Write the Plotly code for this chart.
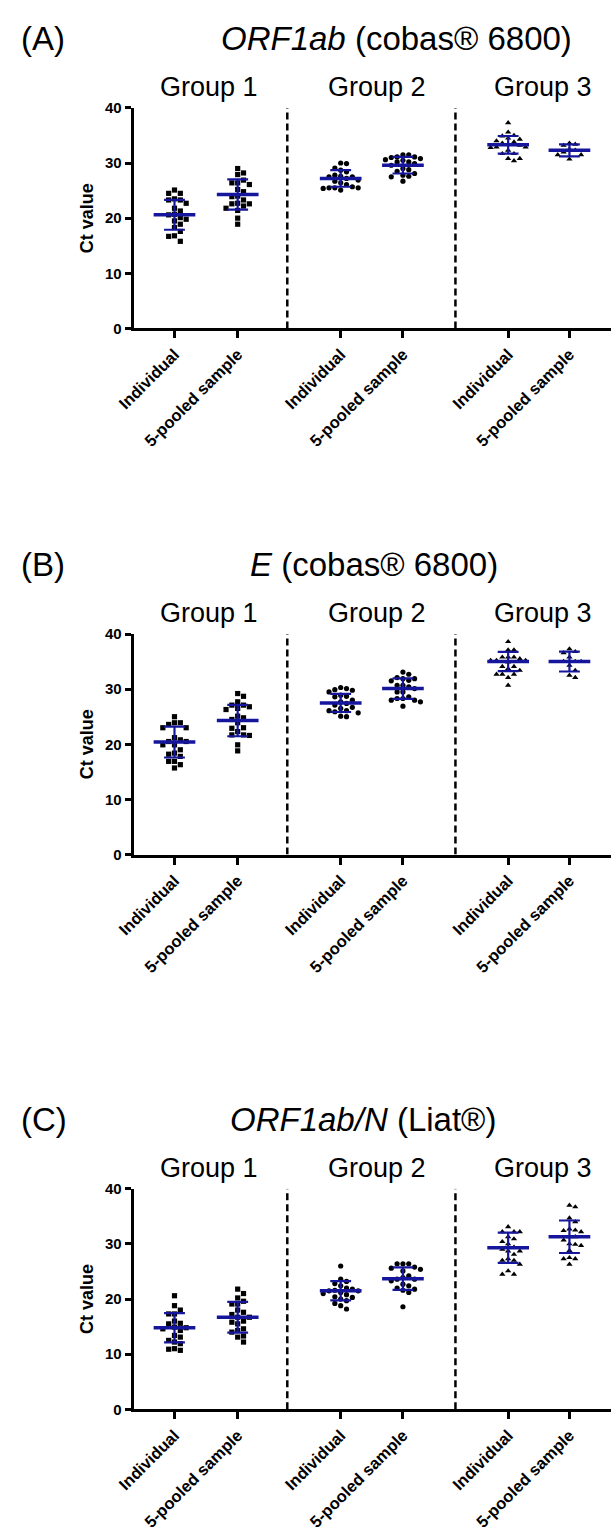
import plotly.graph_objects as go
import numpy as np

W, H = 611, 1535

# ---------------- text ----------------
panel_letters = ["(A)", "(B)", "(C)"]
panel_titles = ["<i>ORF1ab</i> (cobas® 6800)", "<i>E</i> (cobas® 6800)", "<i>ORF1ab/N</i> (Liat®)"]
group_names = ["Group 1", "Group 2", "Group 3"]
sample_types = ["Individual", "5-pooled sample"]
y_ticks = [0, 10, 20, 30, 40]
y_title = "Ct value"

# ---------------- data (Ct values) ----------------
# Panel A: ORF1ab (cobas 6800)
a_g1_ind = [25.1, 24.5, 24.5, 23.5, 23.3, 23.3, 22.7, 21.8, 21.3, 20.7, 20.6, 20.1, 19.8, 19.5, 18.9, 18.3, 17.6, 16.8, 16.7, 15.8]
a_g1_pool = [29.0, 28.2, 27.9, 26.9, 26.4, 26.4, 26.1, 25.2, 24.8, 24.0, 23.9, 23.3, 22.7, 22.6, 22.6, 22.2, 21.8, 21.4, 20.0, 18.9]
a_g2_ind = [30.0, 29.9, 29.1, 28.7, 28.4, 27.8, 27.6, 27.5, 27.5, 27.2, 26.9, 26.7, 26.4, 26.1, 25.7, 25.5, 25.5, 25.5, 25.4, 25.1]
a_g2_pool = [31.5, 31.5, 31.1, 31.1, 31.0, 30.8, 30.6, 30.5, 30.2, 30.2, 29.9, 29.6, 29.0, 28.8, 28.5, 28.1, 27.8, 27.6, 27.5, 26.7]
a_g3_ind = [37.3, 35.6, 35.0, 34.9, 34.5, 34.3, 34.0, 33.8, 33.6, 33.4, 33.2, 32.9, 32.9, 32.8, 32.3, 31.7, 31.7, 30.8, 30.8, 30.4]
a_g3_pool = [33.6, 33.4, 33.2, 32.5, 32.3, 32.0, 31.5, 31.5, 30.7]
# Panel B: E (cobas 6800)
b_g1_ind = [25.0, 23.9, 23.9, 23.6, 23.0, 23.0, 21.2, 20.8, 20.5, 20.5, 19.9, 19.9, 19.0, 18.4, 18.2, 17.8, 16.9, 16.9, 16.3, 15.7]
b_g1_pool = [29.2, 28.7, 27.7, 27.1, 27.1, 26.8, 26.5, 26.3, 25.1, 24.8, 24.5, 23.9, 23.0, 22.9, 22.3, 21.7, 21.7, 21.6, 19.9, 18.8]
b_g2_ind = [30.3, 30.1, 29.9, 29.8, 29.5, 28.9, 28.7, 28.6, 28.0, 27.7, 27.4, 27.1, 26.7, 26.5, 26.1, 26.1, 25.9, 25.7, 25.1, 25.0]
b_g2_pool = [33.1, 32.7, 32.1, 31.9, 31.9, 31.6, 31.5, 30.7, 30.7, 30.4, 30.1, 29.5, 29.5, 28.6, 28.3, 28.3, 28.0, 28.0, 27.7, 26.9]
b_g3_ind = [38.6, 37.1, 37.1, 35.8, 35.8, 35.8, 35.5, 35.2, 35.2, 35.2, 34.9, 34.1, 34.1, 33.7, 33.4, 32.7, 32.7, 32.7, 32.1, 30.7]
b_g3_pool = [37.3, 36.8, 36.6, 35.8, 35.0, 35.0, 35.0, 34.3, 33.4, 32.5, 32.1]
# Panel C: ORF1ab/N (Liat)
c_g1_ind = [20.6, 18.8, 18.0, 17.3, 17.3, 16.0, 15.6, 15.5, 14.9, 14.8, 14.6, 14.3, 13.4, 13.1, 12.5, 12.2, 11.9, 11.0, 10.9, 10.7]
c_g1_pool = [21.8, 21.0, 20.2, 19.6, 19.1, 19.1, 18.0, 17.6, 17.2, 16.7, 16.7, 16.0, 15.8, 15.5, 14.6, 14.3, 14.0, 13.3, 13.1, 12.2]
c_g2_ind = [26.0, 23.6, 23.2, 22.8, 22.4, 22.0, 21.6, 21.5, 21.5, 21.2, 21.0, 20.8, 20.4, 20.3, 20.0, 19.7, 19.2, 18.8, 18.2, 21.8]
c_g2_pool = [26.4, 26.4, 26.4, 25.8, 25.6, 25.4, 25.1, 24.2, 23.9, 23.6, 23.6, 23.3, 22.7, 22.4, 22.0, 21.8, 21.6, 21.2, 18.6]
c_g3_ind = [33.1, 32.2, 32.2, 32.2, 31.3, 30.9, 30.4, 30.0, 29.4, 29.0, 28.7, 28.7, 28.1, 27.3, 27.0, 27.0, 26.3, 25.1, 24.5, 24.5]
c_g3_pool = [37.0, 36.7, 34.7, 34.0, 32.7, 32.5, 32.4, 32.2, 31.3, 31.3, 30.7, 30.0, 29.9, 29.7, 28.8, 27.5, 27.3, 27.3, 26.3]

panel_data = [
    [a_g1_ind, a_g1_pool, a_g2_ind, a_g2_pool, a_g3_ind, a_g3_pool],
    [b_g1_ind, b_g1_pool, b_g2_ind, b_g2_pool, b_g3_ind, b_g3_pool],
    [c_g1_ind, c_g1_pool, c_g2_ind, c_g2_pool, c_g3_ind, c_g3_pool],
]
# mean and SD as drawn
a_means = [20.6, 24.3, 27.2, 29.6, 33.3, 32.3]
a_sds = [2.7, 2.75, 1.5, 1.5, 1.6, 1.1]
b_means = [20.4, 24.3, 27.5, 30.1, 35.0, 35.0]
b_sds = [2.8, 2.85, 1.65, 1.85, 1.75, 1.8]
c_means = [14.8, 16.7, 21.5, 23.7, 29.3, 31.3]
c_sds = [2.65, 2.8, 1.75, 2.05, 2.75, 2.95]
panel_means = [a_means, b_means, c_means]
panel_sds = [a_sds, b_sds, c_sds]

# ---------------- layout geometry (pixels) ----------------
plot_tops = [100, 632, 1193]
plot_h = 223
title_cx = [390, 367, 356]
group_cx = [198, 370, 541]
x_left_px, x_right_px = 120, 611
cat_pos = [1.0, 2.0, 3.63, 4.615, 6.28, 7.25]
sep_pos = [2.785, 5.446]
px_per_x = 65.0
x_range = [(x_left_px - 97) / px_per_x, (x_right_px - 97) / px_per_x]
px_per_y = plot_h / 40.0

group_symbols = ["square", "circle", "triangle-up"]
group_sizes = [5.2, 5.2, 5.5]
blue = "#16169c"
FONT = "Liberation Sans"


def swarm(values, center, step_px=6.0, min_dist=6.0, max_k=3):
    """Deterministic beeswarm offsets (pixel space) from the values."""
    vals = np.asarray(values, dtype=float)
    order = np.argsort(-vals, kind="stable")
    placed = []
    xs = np.zeros(len(vals))
    cands = [0.0]
    for k in range(1, max_k + 1):
        cands += [k * step_px, -k * step_px]
    for i in order:
        yv = vals[i] * px_per_y
        best, best_d = None, -1.0
        for c in cands:
            d = min([np.hypot(c - p, yv - q) for p, q in placed] or [1e9])
            if d >= min_dist:
                best = c
                break
            if d > best_d:
                best, best_d = c, d
        placed.append((best, yv))
        xs[i] = center + best / px_per_x
    return xs


def py(px):
    return 1 - px / H


def pxx(px):
    return px / W


fig = go.Figure()
annotations = []
shapes = []
layout_axes = {}

for p in range(3):
    xa = "x" if p == 0 else f"x{p+1}"
    ya = "y" if p == 0 else f"y{p+1}"
    top = plot_tops[p]
    bottom = top + plot_h
    for k in range(6):
        g = k // 2
        vals = panel_data[p][k]
        xs = swarm(vals, cat_pos[k])
        fig.add_trace(go.Scatter(
            x=xs, y=vals, mode="markers", xaxis=xa, yaxis=ya, showlegend=False,
            marker=dict(symbol=group_symbols[g], size=group_sizes[g], color="black", line=dict(width=0)),
            cliponaxis=False, hoverinfo="skip"))
        m = panel_means[p][k]
        s = panel_sds[p][k]
        c = cat_pos[k]
        # SD bar
        fig.add_trace(go.Scatter(
            x=[c - 0.165, c + 0.165, None, c, c, None, c - 0.165, c + 0.165],
            y=[m + s, m + s, None, m + s, m - s, None, m - s, m - s],
            mode="lines", line=dict(color=blue, width=2.2), xaxis=xa, yaxis=ya,
            showlegend=False, hoverinfo="skip", cliponaxis=False))
        # mean line
        fig.add_trace(go.Scatter(
            x=[c - 0.33, c + 0.33], y=[m, m], mode="lines",
            line=dict(color=blue, width=3.5), xaxis=xa, yaxis=ya,
            showlegend=False, hoverinfo="skip", cliponaxis=False))
    for sp in sep_pos:
        shapes.append(dict(type="line", xref=xa, yref=ya, x0=sp, x1=sp, y0=0, y1=40,
                           line=dict(color="black", width=2.5, dash="7px,4px")))
    dom = [py(bottom), py(top)]
    layout_axes["xaxis" if p == 0 else f"xaxis{p+1}"] = dict(
        domain=[pxx(x_left_px), 1.0], range=x_range, anchor=ya,
        tickmode="array", tickvals=cat_pos, ticktext=sample_types * 3,
        tickangle=-45, ticks="outside", ticklen=7, tickwidth=3, tickcolor="black",
        showline=True, linewidth=3, linecolor="black", showgrid=False, zeroline=False,
        tickfont=dict(family=FONT, size=16.5, color="black", weight="bold"))
    layout_axes["yaxis" if p == 0 else f"yaxis{p+1}"] = dict(
        domain=dom, range=[0, 40], anchor=xa,
        tickmode="array", tickvals=y_ticks, ticks="outside", ticklen=6, tickwidth=3,
        tickcolor="black", showline=True, linewidth=3, linecolor="black",
        showgrid=False, zeroline=False,
        tickfont=dict(family=FONT, size=15, color="black", weight="bold"))
    # texts
    annotations.append(dict(text=panel_letters[p], xref="paper", yref="paper",
                            x=pxx(2), y=py(top - 70), xanchor="left", yanchor="middle",
                            showarrow=False, font=dict(family=FONT, size=33, color="black")))
    annotations.append(dict(text=panel_titles[p], xref="paper", yref="paper",
                            x=pxx(title_cx[p]), y=py(top - 70), xanchor="center", yanchor="middle",
                            showarrow=False, font=dict(family=FONT, size=33, color="black")))
    for g in range(3):
        annotations.append(dict(text=group_names[g], xref="paper", yref="paper",
                                x=pxx(group_cx[g]), y=py(top - 21), xanchor="center", yanchor="middle",
                                showarrow=False, font=dict(family=FONT, size=27, color="black")))
    annotations.append(dict(text=f"<b>{y_title}</b>", xref="paper", yref="paper",
                            x=pxx(72), y=py(top + plot_h / 2), xanchor="center", yanchor="middle",
                            textangle=-90, showarrow=False,
                            font=dict(family=FONT, size=18, color="black")))

fig.update_layout(width=W, height=H, margin=dict(l=0, r=0, t=0, b=0),
                  paper_bgcolor="white", plot_bgcolor="white",
                  annotations=annotations, shapes=shapes, **layout_axes)
fig.write_html("out.html", config={"displayModeBar": False, "staticPlot": True},
               post_script="document.body.style.margin='0px';")
